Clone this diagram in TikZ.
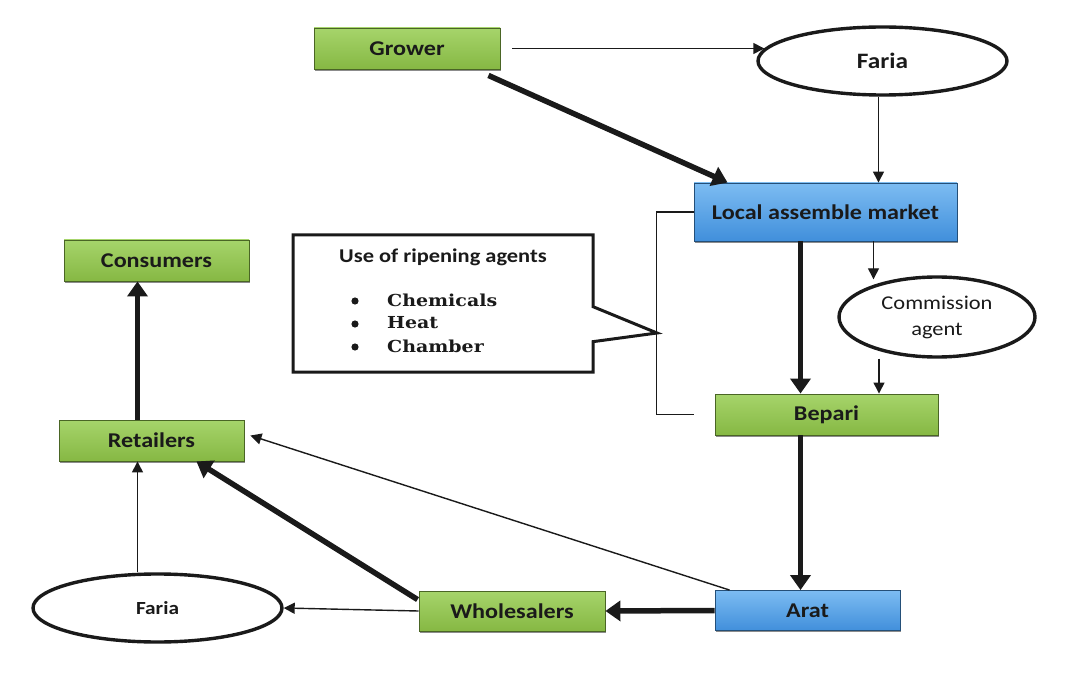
\documentclass[tikz,border=0pt]{standalone}
\usepackage{fontspec}
\setmainfont{Carlito}[FakeStretch=1.15]
\newfontfamily\listfont{DejaVu Serif}[FakeStretch=1.15]
\usetikzlibrary{arrows.meta,shapes.geometric,shapes.callouts,shadows}
\definecolor{leaf}{HTML}{A6D46B}
\definecolor{leafdk}{HTML}{86B843}
\definecolor{sky}{HTML}{7CBCF2}
\definecolor{skydk}{HTML}{418FDB}
\definecolor{ink}{HTML}{1A1A1A}
\tikzset{
  px/.style={x=1pt,y=-1pt,text=ink,font=\bfseries\fontsize{21}{24}\selectfont},
  shade/.style={drop shadow={shadow xshift=1.2pt,shadow yshift=-1.8pt,opacity=.45,fill=black}},
  gbox/.style={shade,draw=leafdk!55!black,line width=.9pt,top color=leaf,bottom color=leafdk,
    minimum width=186pt,minimum height=41pt,inner sep=0pt},
  bbox/.style={shade,draw=skydk!55!black,line width=.9pt,top color=sky,bottom color=skydk,
    minimum width=186pt,minimum height=41pt,inner sep=0pt},
  oval/.style={ellipse,draw=ink,line width=3.4pt,fill=white,minimum width=249pt,minimum height=68pt,inner sep=0pt},
  thinar/.style={draw=ink,line width=1.4pt,-{Triangle[width=11pt,length=11pt]}},
  thickar/.style={draw=ink,line width=5.5pt,-{Triangle[width=20pt,length=15pt]}},
}

\begin{document}
\begin{tikzpicture}[px]
  \fill[white] (0,0) rectangle (1069,695);
  \useasboundingbox (0,0) rectangle (1069,695);

  % market chain
  \node[gbox] (grower) at (407,48.5) {Grower};
  \node[oval,font=\bfseries\fontsize{22}{24}\selectfont] (faria1) at (882.5,61) {Faria};
  \node[bbox,minimum width=263pt,minimum height=58pt] (local) at (825.5,212) {Local assemble market};
  \node[oval,font=\fontsize{19.5}{26}\selectfont,align=center,minimum width=196pt,minimum height=80pt] (comm) at (937,317) {Commission\\agent};
  \node[gbox,minimum width=223pt] (bepari) at (826.5,414.5) {Bepari};
  \node[bbox,minimum width=185pt,minimum height=40pt] (arat) at (807.5,610.5) {Arat};
  \node[gbox,minimum height=40pt] (whole) at (512,611) {Wholesalers};
  \node[oval,font=\bfseries\fontsize{18.5}{22}\selectfont] (faria2) at (157.5,608) {Faria};
  \node[gbox,minimum width=185pt] (retail) at (151.5,440.5) {Retailers};
  \node[gbox,minimum width=185pt] (consum) at (156.5,260.5) {Consumers};

  % ripening agents callout
  \coordinate (tip) at (657,333);
  \node[rectangle callout,draw=ink,line width=3pt,fill=white,minimum width=300pt,minimum height=137pt,
    callout absolute pointer={(tip)},callout pointer width=35pt] (agents) at (443,303.5) {};
  \node[font=\bfseries\fontsize{19.5}{22}\selectfont] (agentshd) at (443,257) {Use of ripening agents};
  \foreach \y/\t [count=\i] in {300/Chemicals,323/Heat,346/Chamber}{
    \fill[ink] (355,\y+1) circle(3.6);
    \node[anchor=west,inner sep=0pt,font=\listfont\bfseries\fontsize{16.5}{20}\selectfont] (ag\i) at (387,\y) {\t};
  }
  \draw[ink,line width=1.3pt] (local.west) -- ++(-37,0) |- (bepari.west -| local.west);

  % flows
  \draw[thinar] ([xshift=12pt]grower.east) -- ([xshift=8pt]grower.east -| faria1.west);
  \draw[thickar] ([shift={(-12,6)}]grower.south east) -- ([xshift=34pt]local.north west);
  \draw[thinar] ([xshift=-4pt]faria1.south) -- ([xshift=-4pt]faria1.south |- local.north);
  \draw[thickar] ([xshift=-25pt]local.south) -- ([xshift=-25pt]local.south |- bepari.north);
  \draw[thinar] ([xshift=48pt]local.south) -- ([xshift=48pt,yshift=-4pt]local.south |- comm.north);
  \draw[thinar] ([xshift=-58pt]comm.south) -- ([xshift=-58pt]comm.south |- bepari.north);
  \draw[thickar] ([xshift=-26pt]bepari.south) -- ([xshift=-26pt]bepari.south |- arat.north);
  \draw[thickar] (arat.west) -- (whole.east);
  \draw[thinar] ([xshift=15pt]arat.north west) -- ([shift={(6,-5)}]retail.east);
  \draw[thinar] (whole.west) -- (faria2.east);
  \draw[thickar] ([shift={(-1,9)}]whole.north west) -- ([xshift=-48pt]retail.south east);
  \draw[thinar] ([xshift=-20pt]faria2.north) -- ([xshift=-20pt]faria2.north |- retail.south);
  \draw[thickar] ([xshift=-14pt]retail.north) -- ([xshift=-14pt]retail.north |- consum.south);
\end{tikzpicture}
\end{document}
